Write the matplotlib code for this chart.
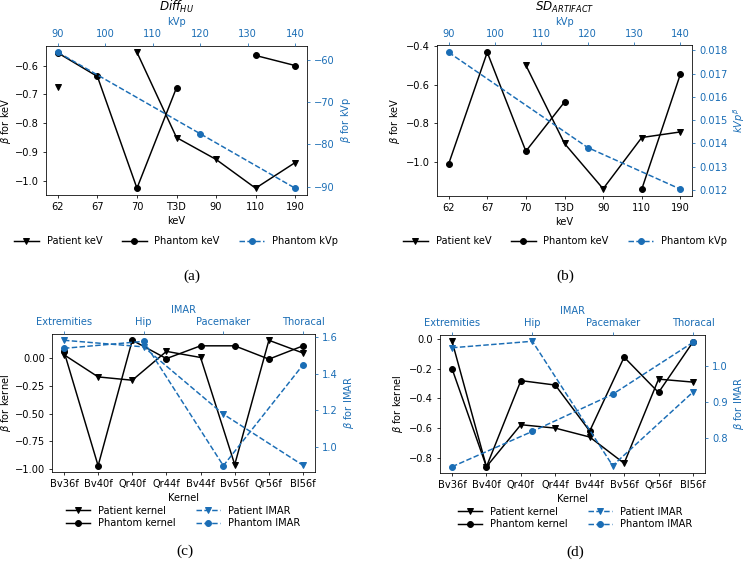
import numpy as np
import matplotlib
matplotlib.use("Agg")
import matplotlib.pyplot as plt
from matplotlib.ticker import MultipleLocator

nan = np.nan
plt.rcParams['font.family'] = ['DejaVu Sans']
plt.rcParams['mathtext.fontset'] = 'dejavusans'

BLUE = '#1a6db5'

# ---- data ----
kev_labels = ['62', '67', '70', 'T3D', '90', '110', '190']
kvp_vals = [90, 120, 140]

a_patient_kev = [-0.675, nan, -0.554, -0.850, -0.926, -1.026, -0.937]
a_phantom_kev = [-0.556, -0.638, -1.026, -0.677, nan, -0.565, -0.600]
a_phantom_kvp = [-58.2, -77.5, -90.4]

b_patient_kev = [nan, nan, -0.499, -0.905, -1.140, -0.874, -0.845]
b_phantom_kev = [-1.012, -0.432, -0.945, -0.690, nan, -1.142, -0.545]
b_phantom_kvp = [0.01791, 0.01382, 0.01203]

kernel_labels = ['Bv36f', 'Bv40f', 'Qr40f', 'Qr44f', 'Bv44f', 'Bv56f', 'Qr56f', 'Bl56f']
imar_labels = ['Extremities', 'Hip', 'Pacemaker', 'Thoracal']

c_patient_kernel = [0.03, -0.17, -0.20, 0.06, 0.005, -0.96, 0.16, 0.045]
c_phantom_kernel = [0.06, -0.97, 0.16, -0.005, 0.11, 0.11, -0.01, 0.11]
c_patient_imar = [1.584, 1.548, 1.18, 0.90]
c_phantom_imar = [1.54, 1.578, 0.898, 1.45]

d_patient_kernel = [-0.015, -0.86, -0.577, -0.60, -0.66, -0.837, -0.27, -0.29]
d_phantom_kernel = [-0.20, -0.86, -0.28, -0.31, -0.62, -0.122, -0.36, -0.02]
d_patient_imar = [1.05, 1.068, 0.723, 0.927]
d_phantom_imar = [0.72, 0.818, 0.921, 1.065]

W, H = 747, 571
DPI = 71
fig = plt.figure(figsize=(W / DPI, H / DPI), dpi=DPI)


def rect(l, t, r, b):
    return [l / W, 1 - b / H, (r - l) / W, (b - t) / H]


def make_axes(r):
    ax = fig.add_axes(r)
    ax2 = fig.add_axes(r, frameon=False)
    ax2.xaxis.tick_top()
    ax2.xaxis.set_label_position('top')
    ax2.yaxis.tick_right()
    ax2.yaxis.set_label_position('right')
    ax2.tick_params(colors=BLUE, which='both')
    ax2.xaxis.label.set_color(BLUE)
    ax2.yaxis.label.set_color(BLUE)
    ax2.patch.set_visible(False)
    return ax, ax2


def caption(x, y, s):
    fig.text(x / W, 1 - y / H, s, ha='center', va='center',
             family='Liberation Serif', fontsize=15.5)


# ---- (a) ----
ax, ax2 = make_axes(rect(46, 45.5, 307, 195))
x = np.arange(len(kev_labels))
l1, = ax.plot(x, a_patient_kev, color='black', marker='v', label='Patient keV')
l2, = ax.plot(x, a_phantom_kev, color='black', marker='o', label='Phantom keV')
ax.set_xticks(x)
ax.set_xticklabels(kev_labels)
ax.set_xlabel('keV')
ax.set_ylabel(r'$\beta$ for keV', labelpad=2)
ax.yaxis.set_major_locator(MultipleLocator(0.1))
l3, = ax2.plot(kvp_vals, a_phantom_kvp, color=BLUE, marker='o', ls='--', label='Phantom kVp')
ax2.xaxis.set_major_locator(MultipleLocator(10))
ax2.yaxis.set_major_locator(MultipleLocator(10))
ax2.set_xlabel('kVp')
ax2.set_ylabel(r'$\beta$ for kVp')
ax2.set_title(r'$\it{Diff}_{HU}$')
fig.legend(handles=[l1, l2, l3], loc='center', bbox_to_anchor=(176 / W, 1 - 241 / H),
           ncol=3, frameon=False, handlelength=2.5)
caption(192, 276, '(a)')

# ---- (b) ----
ax, ax2 = make_axes(rect(437, 45.5, 692, 196))
l1, = ax.plot(x, b_patient_kev, color='black', marker='v', label='Patient keV')
l2, = ax.plot(x, b_phantom_kev, color='black', marker='o', label='Phantom keV')
ax.set_xticks(x)
ax.set_xticklabels(kev_labels)
ax.set_xlabel('keV')
ax.set_ylabel(r'$\beta$ for keV')
ax.yaxis.set_major_locator(MultipleLocator(0.2))
l3, = ax2.plot(kvp_vals, b_phantom_kvp, color=BLUE, marker='o', ls='--', label='Phantom kVp')
ax2.xaxis.set_major_locator(MultipleLocator(10))
ax2.yaxis.set_major_locator(MultipleLocator(0.001))
ax2.set_xlabel('kVp')
ax2.set_ylabel(r'$kVp^{\beta}$')
ax2.set_title(r'$\it{SD}_{ARTIFACT}$')
fig.legend(handles=[l1, l2, l3], loc='center', bbox_to_anchor=(565 / W, 1 - 241 / H),
           ncol=3, frameon=False, handlelength=2.5)
caption(565, 276, '(b)')

# ---- (c) ----
xk = np.arange(len(kernel_labels))
xi = np.arange(len(imar_labels))
ax, ax2 = make_axes(rect(52, 334, 315, 472))
l1, = ax.plot(xk, c_patient_kernel, color='black', marker='v', label='Patient kernel')
l2, = ax.plot(xk, c_phantom_kernel, color='black', marker='o', label='Phantom kernel')
ax.set_xticks(xk)
ax.set_xticklabels(kernel_labels)
ax.set_xlabel('Kernel')
ax.set_ylabel(r'$\beta$ for kernel', labelpad=2)
ax.yaxis.set_major_locator(MultipleLocator(0.25))
l3, = ax2.plot(xi, c_patient_imar, color=BLUE, marker='v', ls='--', label='Patient IMAR')
l4, = ax2.plot(xi, c_phantom_imar, color=BLUE, marker='o', ls='--', label='Phantom IMAR')
ax2.set_xticks(xi)
ax2.set_xticklabels(imar_labels)
ax2.yaxis.set_major_locator(MultipleLocator(0.2))
ax2.set_xlabel('IMAR')
ax2.set_ylabel(r'$\beta$ for IMAR')
fig.legend(handles=[l1, l2, l3, l4], loc='center', bbox_to_anchor=(183 / W, 1 - 517 / H),
           ncol=2, frameon=False, handlelength=2.5, labelspacing=0.3)
caption(185, 551, '(c)')

# ---- (d) ----
ax, ax2 = make_axes(rect(440, 335, 705, 473))
l1, = ax.plot(xk, d_patient_kernel, color='black', marker='v', label='Patient kernel')
l2, = ax.plot(xk, d_phantom_kernel, color='black', marker='o', label='Phantom kernel')
ax.set_xticks(xk)
ax.set_xticklabels(kernel_labels)
ax.set_xlabel('Kernel')
ax.set_ylabel(r'$\beta$ for kernel')
ax.yaxis.set_major_locator(MultipleLocator(0.2))
l3, = ax2.plot(xi, d_patient_imar, color=BLUE, marker='v', ls='--', label='Patient IMAR')
l4, = ax2.plot(xi, d_phantom_imar, color=BLUE, marker='o', ls='--', label='Phantom IMAR')
ax2.set_xticks(xi)
ax2.set_xticklabels(imar_labels)
ax2.yaxis.set_major_locator(MultipleLocator(0.1))
ax2.set_xlabel('IMAR')
ax2.set_ylabel(r'$\beta$ for IMAR')
fig.legend(handles=[l1, l2, l3, l4], loc='center', bbox_to_anchor=(575 / W, 1 - 518 / H),
           ncol=2, frameon=False, handlelength=2.5, labelspacing=0.3)
caption(575, 552, '(d)')

fig.savefig('out.png', dpi=DPI)
